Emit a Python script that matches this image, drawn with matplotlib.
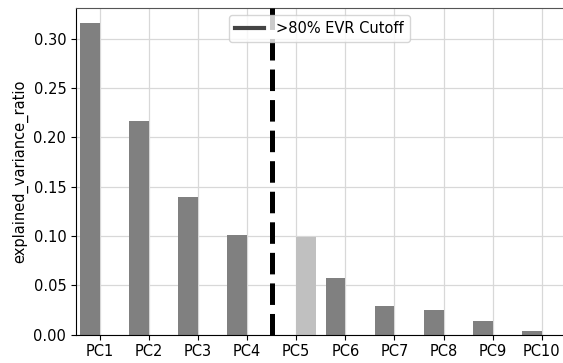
import matplotlib
matplotlib.use("Agg")
import matplotlib.pyplot as plt
from matplotlib.lines import Line2D

components = ["PC1", "PC2", "PC3", "PC4", "PC5", "PC6", "PC7", "PC8", "PC9", "PC10"]
evr = [0.3155, 0.2165, 0.139, 0.1005, 0.0985, 0.0575, 0.0285, 0.0245, 0.014, 0.0035]
highlight = "PC5"
cutoff_pos = 3.5

plt.rcParams["lines.scale_dashes"] = False
plt.rcParams["font.size"] = 10.5

fig = plt.figure(figsize=(5.63, 3.63), dpi=100)
ax = fig.add_axes([0.135, 0.0785, 0.865, 0.899])

xs = list(range(len(components)))
for x, name, val in zip(xs, components, evr):
  if name == highlight:
    ax.bar(x, val, width=0.4, align="edge", color="#c0c0c0", zorder=2)
  else:
    ax.bar(x, val, width=-0.4, align="edge", color="#808080", zorder=2)

ax.axvline(cutoff_pos, color="black", linewidth=3.6, dashes=(15.5, 6.5), zorder=3)

ax.set_xticks(xs)
ax.set_xticklabels(components)
ax.set_xlim(-0.48, 9.43)
ax.set_ylim(0, 0.331)
ax.set_ylabel("explained_variance_ratio")
ax.grid(True, color="#d8d8d8", linewidth=0.9, zorder=0)
ax.set_axisbelow(True)
ax.spines["right"].set_visible(False)
ax.spines["top"].set_color("#555555")

handle = Line2D([0], [0], color="#444444", linewidth=3)
leg = ax.legend([handle], [">80% EVR Cutoff"], loc="upper center", fontsize=10.5)
leg.set_zorder(5)

fig.savefig("out.png", dpi=100)
